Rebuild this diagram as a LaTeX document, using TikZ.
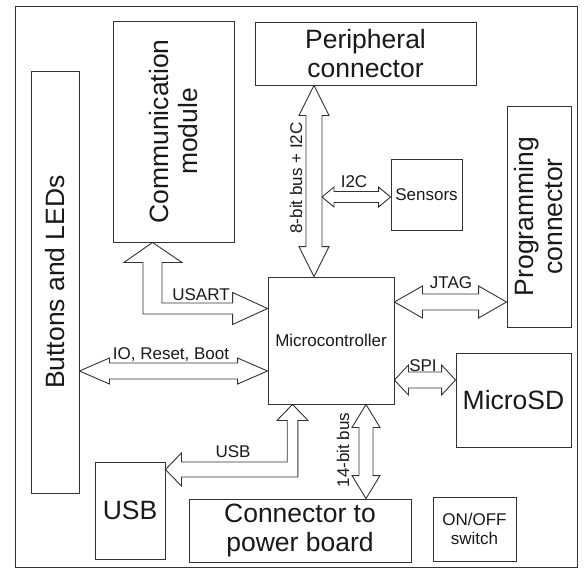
\documentclass[tikz,border=0pt]{standalone}
\usepackage{fontspec}
\setmainfont{Liberation Sans}
\usetikzlibrary{calc}
\definecolor{lc}{RGB}{50,50,50}
\definecolor{tc}{RGB}{25,25,25}
\newcommand\bigfnt{\fontsize{26.5}{29}\selectfont}
\newcommand\smallfnt{\fontsize{17}{19}\selectfont}
% horizontal double block arrow: #1 left tip, #2 right tip, #3 shaft half, #4 head half, #5 head length
\newcommand\hdbl[5]{%
 \draw[ln] (#1) -- ($(#1)+(#5,-#4)$) -- ($(#1)+(#5,-#3)$) -- ($(#2)+(-#5,-#3)$) -- ($(#2)+(-#5,-#4)$) -- (#2)
   -- ($(#2)+(-#5,#4)$) -- ($(#2)+(-#5,#3)$) -- ($(#1)+(#5,#3)$) -- ($(#1)+(#5,#4)$) -- cycle;}
% vertical double block arrow: #1 top tip, #2 bottom tip
\newcommand\vdbl[5]{%
 \draw[ln] (#1) -- ($(#1)+(-#4,#5)$) -- ($(#1)+(-#3,#5)$) -- ($(#2)+(-#3,-#5)$) -- ($(#2)+(-#4,-#5)$) -- (#2)
   -- ($(#2)+(#4,-#5)$) -- ($(#2)+(#3,-#5)$) -- ($(#1)+(#3,#5)$) -- ($(#1)+(#4,#5)$) -- cycle;}
\begin{document}
\begin{tikzpicture}[x=1pt,y=-1pt,
  ln/.style={draw=lc, line width=0.9pt, line join=miter},
  box/.style={ln, rectangle, inner sep=0pt, align=center, text=tc, font=\bigfnt},
  sbox/.style={box, font=\smallfnt},
  lbl/.style={inner sep=0pt, text=tc, font=\smallfnt}]
\useasboundingbox (0,0) rectangle (584,568);
\node[ln, rectangle, inner sep=0pt, minimum width=562, minimum height=561] (frame) at (296,286.5) {};

\node[box, rotate=90, minimum width=422, minimum height=48] (btn) at (55,282) {Buttons and LEDs};
\node[box, rotate=90, minimum width=221, minimum height=121] (comm) at (173.5,131.5) {Communication\\module};
\node[box, minimum width=221, minimum height=63] (periph) at (365.5,53.5) {Peripheral\\connector};
\node[box, rotate=90, minimum width=221, minimum height=64] (prog) at (539,216.5) {Programming\\connector};
\node[sbox, minimum width=71, minimum height=71] (sens) at (426.5,194.5) {Sensors};
\node[sbox, minimum width=126, minimum height=127] (mc) at (331,340.5) {Microcontroller};
\node[box, minimum width=115, minimum height=94] (sd) at (513.5,400) {MicroSD};
\node[box, minimum width=70, minimum height=97] (usb) at (130,510.5) {USB};
\node[box, minimum width=222, minimum height=63] (pwr) at (300,530.5) {Connector to\\power board};
\node[sbox, minimum width=83, minimum height=64] (sw) at (474.5,529) {ON/OFF\\switch};

% 8-bit bus
\coordinate (b8t) at (314,0 |- periph.south);
\coordinate (b8b) at (314,0 |- mc.north);
\vdbl{b8t}{b8b}{8}{15}{30}
\node[lbl, rotate=90] (l8) at (296,178) {8-bit bus + I2C};
% I2C
\coordinate (i2l) at (322,197);
\coordinate (i2r) at (sens.west |- 0,197);
\hdbl{i2l}{i2r}{5.5}{10}{12}
\node[lbl] (li2c) at (354,182) {I2C};
% IO, Reset, Boot
\coordinate (iol) at (btn.south |- 0,371);
\coordinate (ior) at (mc.west |- 0,371);
\hdbl{iol}{ior}{8}{13}{30}
\node[lbl] (lio) at (171,355) {IO, Reset, Boot};
% JTAG
\coordinate (jl) at (mc.east |- 0,302);
\coordinate (jr) at (prog.north |- 0,302);
\hdbl{jl}{jr}{8}{16}{28}
\node[lbl] (ljtag) at (451,283) {JTAG};
% SPI
\coordinate (sl) at (mc.east |- 0,380);
\coordinate (sr) at (sd.west |- 0,380);
\hdbl{sl}{sr}{8}{15}{14}
\node[lbl] (lspi) at (423,366) {SPI};
% 14-bit bus
\coordinate (b14t) at (366,0 |- mc.south);
\coordinate (b14b) at (366,0 |- pwr.north);
\vdbl{b14t}{b14b}{7}{14}{23}
\node[lbl, rotate=90] (l14) at (343,450) {14-bit bus};
% USART L arrow
\coordinate (ut) at (152.5,0 |- comm.west);
\coordinate (rt) at (mc.west |- 0,308.5);
\draw[ln] (ut) -- ($(ut)+(29.5,20)$) -- ($(ut)+(9.5,20)$) -- ($(ut |- rt)+(9.5,-5.5)$)
  -- ($(rt)+(-35,-5.5)$) -- ($(rt)+(-35,-16)$) -- (rt) -- ($(rt)+(-35,16)$) -- ($(rt)+(-35,5.5)$)
  -- ($(ut |- rt)+(-9.5,5.5)$) -- ($(ut)+(-9.5,20)$) -- ($(ut)+(-28.5,20)$) -- cycle;
\node[lbl] (lusart) at (201,295) {USART};
% USB L arrow
\coordinate (ut2) at (292.5,0 |- mc.south);
\coordinate (lt2) at (usb.east |- 0,469.5);
\draw[ln] (ut2) -- ($(ut2)+(15.5,16)$) -- ($(ut2)+(5.3,16)$) -- ($(ut2 |- lt2)+(5.3,7.5)$)
  -- ($(lt2)+(16,7.5)$) -- ($(lt2)+(16,16.5)$) -- (lt2) -- ($(lt2)+(16,-16.5)$) -- ($(lt2)+(16,-7.5)$)
  -- ($(ut2 |- lt2)+(-5.3,-7.5)$) -- ($(ut2)+(-5.3,16)$) -- ($(ut2)+(-15.5,16)$) -- cycle;
\node[lbl] (lusb) at (233,452) {USB};
\end{tikzpicture}
\end{document}
